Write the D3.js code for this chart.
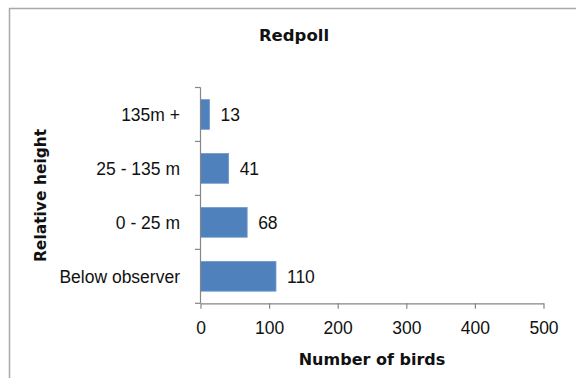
<!DOCTYPE html>
<html>
<head>
<meta charset="utf-8">
<script src="https://cdn.jsdelivr.net/npm/d3@7"></script>
<style>
  html, body { margin: 0; padding: 0; background: #fff; }
  svg { display: block; }
</style>
</head>
<body>
<svg id="chart" width="576" height="378"></svg>
<script>
// Redpoll counts by height relative to the observer
const categories = ["135m +", "25 - 135 m", "0 - 25 m", "Below observer"];
const birdCounts = [13, 41, 68, 110];
const xTicks = [0, 100, 200, 300, 400, 500];
const titleText = "Redpoll";
const xTitle = "Number of birds";
const yTitle = "Relative height";

const svg = d3.select("#chart");
const W = 576, H = 378;
const plot = { left: 200.5, right: 543.5, top: 87.5, bottom: 303.3 };

const labelFont = "'Liberation Sans', Arial, sans-serif";
const titleFont = "'DejaVu Sans', sans-serif";
const axisColor = "#868686";
const textColor = "#111";

// outer chart frame
svg.append("rect")
  .attr("x", 9.5).attr("y", 8.5)
  .attr("width", W + 20).attr("height", H + 20)
  .attr("fill", "#fff")
  .attr("stroke", "#a9a9a9")
  .attr("stroke-width", 1.5);

const x = d3.scaleLinear().domain([0, 500]).range([plot.left, plot.right]);
const y = d3.scaleBand().domain(categories)
  .range([plot.top, plot.bottom])
  .paddingInner(0.45).paddingOuter(0.225);

// bars
svg.append("g").selectAll("rect")
  .data(categories)
  .join("rect")
  .attr("x", x(0))
  .attr("y", d => y(d))
  .attr("width", (d, i) => x(birdCounts[i]) - x(0))
  .attr("height", y.bandwidth())
  .attr("fill", "#4f81bd")
  .attr("stroke", "#6f97c9")
  .attr("stroke-width", 0.8);

// value labels
svg.append("g").selectAll("text")
  .data(categories)
  .join("text")
  .attr("x", (d, i) => x(birdCounts[i]) + 11)
  .attr("y", d => y(d) + y.bandwidth() / 2)
  .attr("dy", "0.36em")
  .attr("font-family", labelFont)
  .attr("font-size", 17.5)
  .attr("fill", textColor)
  .text((d, i) => birdCounts[i]);

// x axis
const xAxis = svg.append("g")
  .attr("transform", `translate(0,${plot.bottom})`)
  .call(d3.axisBottom(x).tickValues(xTicks).tickSize(5.5).tickSizeOuter(0).tickPadding(13));
xAxis.select(".domain").attr("stroke", axisColor).attr("stroke-width", 1.2);
xAxis.selectAll(".tick line").attr("stroke", axisColor).attr("stroke-width", 1.2);
xAxis.selectAll(".tick text")
  .attr("font-family", labelFont)
  .attr("font-size", 17.5)
  .attr("fill", textColor);

// y axis: line with ticks on the category boundaries
const yAxis = svg.append("g");
yAxis.append("line")
  .attr("x1", plot.left).attr("x2", plot.left)
  .attr("y1", plot.top).attr("y2", plot.bottom)
  .attr("stroke", axisColor).attr("stroke-width", 1.2);
const boundaries = categories.map(c => y(c) - y.step() * y.paddingInner() / 2);
boundaries.push(plot.bottom);
yAxis.selectAll("line.tick")
  .data(boundaries)
  .join("line")
  .attr("class", "tick")
  .attr("x1", plot.left - 5.5).attr("x2", plot.left)
  .attr("y1", d => d).attr("y2", d => d)
  .attr("stroke", axisColor).attr("stroke-width", 1.2);
yAxis.selectAll("text")
  .data(categories)
  .join("text")
  .attr("x", plot.left - 20.5)
  .attr("y", d => y(d) + y.bandwidth() / 2)
  .attr("dy", "0.36em")
  .attr("text-anchor", "end")
  .attr("font-family", labelFont)
  .attr("font-size", 17.5)
  .attr("fill", textColor)
  .text(d => d);

// titles
svg.append("text")
  .attr("x", 294).attr("y", 41)
  .attr("text-anchor", "middle")
  .attr("font-family", titleFont).attr("font-weight", "bold")
  .attr("font-size", 16.5).attr("fill", textColor)
  .text(titleText);

svg.append("text")
  .attr("x", (plot.left + plot.right) / 2).attr("y", 365)
  .attr("text-anchor", "middle")
  .attr("font-family", titleFont).attr("font-weight", "bold")
  .attr("font-size", 16).attr("fill", textColor)
  .text(xTitle);

svg.append("text")
  .attr("transform", `translate(46,${(plot.top + plot.bottom) / 2}) rotate(-90)`)
  .attr("text-anchor", "middle")
  .attr("font-family", titleFont).attr("font-weight", "bold")
  .attr("font-size", 15.5).attr("fill", textColor)
  .text(yTitle);
</script>
</body>
</html>
